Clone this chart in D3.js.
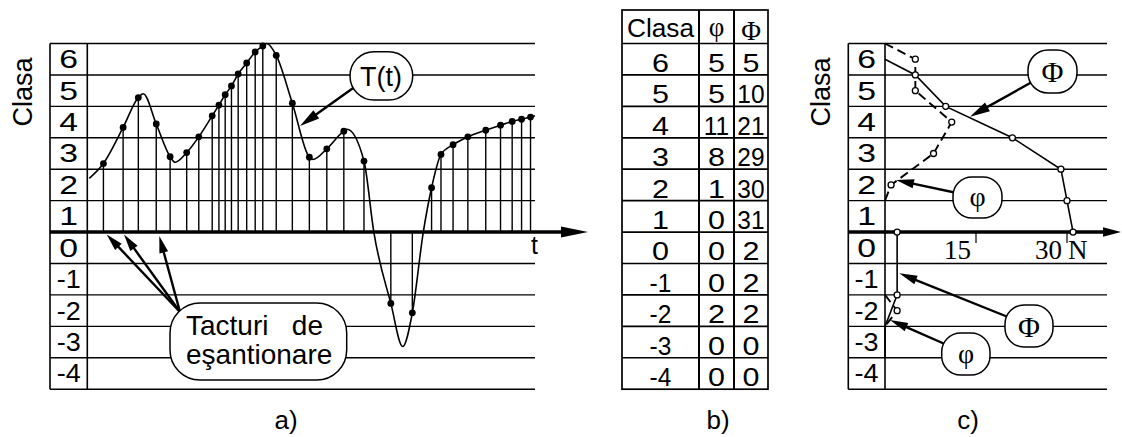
<!DOCTYPE html>
<html><head><meta charset="utf-8">
<script src="https://cdn.jsdelivr.net/npm/d3@7"></script>
<style>body{margin:0;background:#fff}svg{display:block}</style>
</head><body><svg id="c" width="1122" height="437"></svg>
<script>
// ---- data ----
const classes = [6,5,4,3,2,1,0,-1,-2,-3,-4];
const phi = [5,5,11,8,1,0,0,0,2,0,0];
const Phi = [5,10,21,29,30,31,2,2,2,0,0];
// sampling instants (t in % of time span) and sampled values of T(t)
const sampleT = [3.6,8.0,11.4,15.4,18.5,22.2,24.9,27.9,29.4,30.8,32.2,33.7,35.6,37.5,39.2,42.2,45.8,49.6,53.5,57.3,61.8,67.8,72.6,76.9,79.0,81.7,85.0,89.0,92.3,94.9,97.0,99.0];
const sampleV = [2.18,3.33,4.28,3.44,2.40,2.53,3.03,3.70,4.04,4.37,4.65,5.03,5.38,5.73,5.92,5.62,4.10,2.38,2.65,3.21,2.26,-2.27,-2.57,1.41,2.47,2.78,3.03,3.24,3.40,3.52,3.59,3.66];
// extra points of the continuous curve (ends, extrema, zero crossings)
const extraT = [0.45,12.5,19.6,40.1,50.4,58.0,64.0,70.45,75.05,100];
const extraV = [1.71,4.40,2.22,6.0,2.31,3.27,0,-3.64,0,3.70];
const nTicks = [15,30];
const PhiStartLevel = 5.5;

// ---- setup ----
const svg = d3.select('#c');
svg.append('rect').attr('width',1122).attr('height',437).attr('fill','#fff');
const SANS = '"Liberation Sans", Arial, sans-serif';
const SERIF = '"Liberation Serif", "Times New Roman", serif';
const y = d3.scaleLinear().domain([-5,6]).range([389.2,43.5]);
const xa = d3.scaleLinear().domain([0,100]).range([87.3,535]);
const xc = d3.scaleLinear().domain([0,30]).range([885,1067]);
const levels = d3.range(-5,7);

function label(g,x,yy,txt,size,sx,fam,anchor){
  g.append('text').attr('transform',`translate(${x},${yy}) scale(${sx},1)`)
   .attr('text-anchor',anchor||'middle').attr('font-family',fam||SANS)
   .attr('font-size',size).attr('fill','#000').text(txt);
}
function hline(g,x1,x2,yy,w){g.append('line').attr('x1',x1).attr('x2',x2).attr('y1',yy).attr('y2',yy).attr('stroke','#000').attr('stroke-width',w);}
function vline(g,xx,y1,y2,w){g.append('line').attr('x1',xx).attr('x2',xx).attr('y1',y1).attr('y2',y2).attr('stroke','#000').attr('stroke-width',w);}
function arrow(g,x1,y1,x2,y2,len,hw,w){
  len=len||17; hw=hw||4.5; w=w||2.4;
  const a=Math.atan2(y2-y1,x2-x1), c=Math.cos(a), s=Math.sin(a);
  const bx=x2-len*c, by=y2-len*s;
  g.append('line').attr('x1',x1).attr('y1',y1).attr('x2',bx+2*c).attr('y2',by+2*s).attr('stroke','#000').attr('stroke-width',w);
  g.append('path').attr('d',`M${x2},${y2}L${bx-hw*s},${by+hw*c}L${bx+hw*s},${by-hw*c}Z`).attr('fill','#000');
}
function box(g,x,yy,w,h,r){
  g.append('rect').attr('x',x).attr('y',yy).attr('width',w).attr('height',h).attr('rx',r).attr('ry',r)
   .attr('fill','#fff').attr('stroke','#000').attr('stroke-width',1.5);
}
function rowLabels(g,cx){
  classes.forEach(k=>{
    const s=String(k);
    label(g,cx,(y(k)+y(k-1))/2+9,s,25,s.length===1?1.35:1.08);
  });
}
function clasa(g,x){
  g.append('text').attr('transform',`translate(${x},92) rotate(-90)`).attr('text-anchor','middle')
   .attr('font-family',SANS).attr('font-size',27).text('Clasa');
}

// ---- panel a ----
const ga = svg.append('g');
levels.forEach(l=>{ if(l!==0) hline(ga,50,535,y(l),1.4); });
vline(ga,50,y(6),y(-5),1.6); vline(ga,87.3,y(6),y(-5),1.6);
rowLabels(ga,68.7);
clasa(ga,32);
sampleT.forEach((t,i)=>vline(ga,xa(t),y(0),y(sampleV[i]),1.4));
const curvePts = sampleT.map((t,i)=>[t,sampleV[i]]).concat(extraT.map((t,i)=>[t,extraV[i]])).sort((a,b)=>a[0]-b[0]);
ga.append('path').attr('d',d3.line().x(d=>xa(d[0])).y(d=>y(d[1])).curve(d3.curveMonotoneX)(curvePts))
  .attr('fill','none').attr('stroke','#000').attr('stroke-width',1.6);
sampleT.forEach((t,i)=>ga.append('circle').attr('cx',xa(t)).attr('cy',y(sampleV[i])).attr('r',3.4).attr('fill','#000'));
hline(ga,50,565,y(0),3.4);
ga.append('path').attr('d',`M588,${y(0)}L561,${y(0)-5.5}L561,${y(0)+5.5}Z`).attr('fill','#000');
label(ga,531,254,'t',25,1,SANS,'start');
// callouts a
arrow(ga,356,86,300,126,20,5);
box(ga,350,51.7,62.7,48.3,24);
label(ga,381,86,'T(t)',27,1);
[[106.7,234.5],[124,234.5],[159.3,236]].forEach(p=>arrow(ga,180,312,p[0],p[1],17,4.5));
box(ga,170,303,176.7,77,30);
label(ga,186,335,'Tacturi',28,1,SANS,'start');
label(ga,323,335,'de',28,1,SANS,'end');
label(ga,186,364,'eşantionare',28,1,SANS,'start');
label(ga,286,429,'a)',26,1);

// ---- panel b: table ----
const gb = svg.append('g');
const colX=[622,699,734,768];
gb.append('rect').attr('x',colX[0]).attr('y',10).attr('width',colX[3]-colX[0]).attr('height',y(-5)-10)
  .attr('fill','none').attr('stroke','#000').attr('stroke-width',1.7);
levels.filter(l=>l>-5).forEach(l=>hline(gb,colX[0],colX[3],y(l),1.7));
vline(gb,colX[1],10,y(-5),2); vline(gb,colX[2],10,y(-5),2);
const cx=[(colX[0]+colX[1])/2,(colX[1]+colX[2])/2,(colX[2]+colX[3])/2];
label(gb,cx[0],37,'Clasa',25,1.05);
label(gb,cx[1],36,'φ',27,1,SERIF);
label(gb,cx[2],40,'Φ',27,1,SERIF);
classes.forEach((k,i)=>{
  const by=y(k-1)-3;
  [String(k),String(phi[i]),String(Phi[i])].forEach((s,j)=>label(gb,cx[j],by,s,25,s.length===1?1.22:0.98));
});
label(gb,718,429,'b)',26,1);

// ---- panel c ----
const gc = svg.append('g');
levels.forEach(l=>{ if(l!==0) hline(gc,848.3,1107,y(l),1.4); });
vline(gc,848.3,y(6),y(-5),1.6); vline(gc,885,y(6),y(-5),1.6);
rowLabels(gc,866.6);
clasa(gc,830);
hline(gc,848.3,1108,y(0),3.4);
gc.append('path').attr('d',`M1121,${y(0)}L1103,${y(0)-4.8}L1103,${y(0)+4.8}Z`).attr('fill','#000');
nTicks.forEach(n=>{
  vline(gc,xc(n),y(0),y(0)+11,1.2);
  label(gc,xc(n)-5,259,String(n),27,1,SERIF,'end');
});
label(gc,xc(30)+1,259,'N',27,1,SERIF,'start');

const line = d3.line().x(d=>xc(d[0])).y(d=>y(d[1]));
// Phi cumulative (solid)
const PhiPos = [[0,PhiStartLevel]].concat(classes.map((k,i)=>[Phi[i],k-1,k]).filter(d=>d[2]>=1));
const PhiNeg = classes.map((k,i)=>[Phi[i],k,k]).filter(d=>d[2]<=0);
[PhiPos,PhiNeg].forEach(p=>gc.append('path').attr('d',line(p)).attr('fill','none').attr('stroke','#000').attr('stroke-width',1.6));
// phi polygon (dashed)
const runs=[]; let cur=null;
classes.forEach((k,i)=>{
  if(phi[i]>0){ if(!cur){cur=[[0,k]];runs.push(cur);} cur.push([phi[i],k-0.5]); cur.last=k; }
  else if(cur){ cur.push([0,cur.last-1]); cur=null; }
});
if(cur) cur.push([0,cur.last-1]);
runs.forEach(r=>gc.append('path').attr('d',line(r)).attr('fill','none').attr('stroke','#000').attr('stroke-width',1.9).attr('stroke-dasharray','9,5'));
// circles
const circ=[];
PhiPos.slice(1).forEach(d=>circ.push(d));
PhiNeg.forEach((d,i)=>{
  if(d[0]<=0) return;
  const prev=PhiNeg[i-1], next=PhiNeg[i+1];
  if(prev && next && prev[0]===d[0] && next[0]===d[0]) return;
  circ.push(d);
});
runs.forEach(r=>r.forEach(d=>{ if(d[0]>0) circ.push(d); }));
circ.forEach(d=>gc.append('circle').attr('cx',xc(d[0])).attr('cy',y(d[1])).attr('r',3).attr('fill','#fff').attr('stroke','#000').attr('stroke-width',1.3));
// callouts c
arrow(gc,1032,82,970,116.7,20,5);
box(gc,1028,50,49,43,20);
label(gc,1052.5,82,'Φ',30,1,SERIF);
arrow(gc,957,193,896,180,18,4.5);
box(gc,953,177,49,41,19);
label(gc,977.5,206,'φ',28,1,SERIF);
arrow(gc,1008,317,899.3,273.3,18,4.5);
box(gc,1005,305,48,42,19);
label(gc,1029,337,'Φ',30,1,SERIF);
arrow(gc,947,345,890,320,18,4.5);
box(gc,941.7,333,48.3,42,19);
label(gc,966,363,'φ',28,1,SERIF);
label(gc,968,429,'c)',26,1);
</script></body></html>
